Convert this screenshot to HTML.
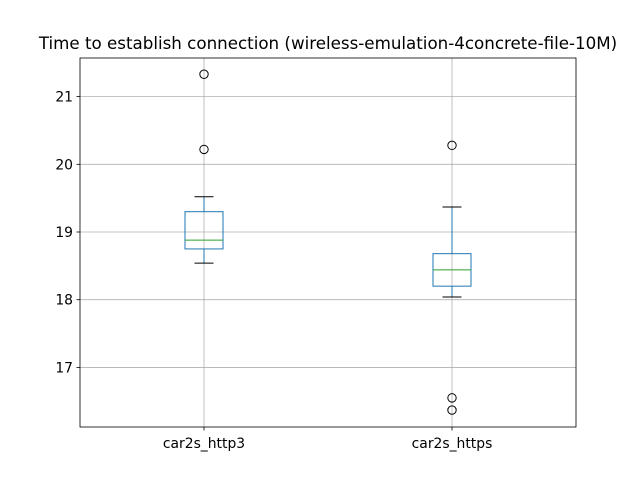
<!DOCTYPE html>
<html><head><meta charset="utf-8"><style>body{margin:0;background:#fff}svg{display:block}text{font-family:"DejaVu Sans","Liberation Sans",sans-serif;fill:#000}</style></head>
<body>
<svg id="chart" width="640" height="480"></svg>
<script>
const categories=["car2s_http3","car2s_https"];
const whiskerLow=[18.54,18.04];
const q1=[18.75,18.20];
const medians=[18.88,18.44];
const q3=[19.30,18.68];
const whiskerHigh=[19.52,19.37];
const outliers=[[21.33,20.22],[20.28,16.55,16.37]];
const yTicks=[17,18,19,20,21];
const L=80,R=576,T=58,B=427,yMin=16.12,yMax=21.57;
const y=v=>B-(v-yMin)/(yMax-yMin)*(B-T);
const x=i=>L+(R-L)*(i+0.5)/categories.length;
const s=document.getElementById('chart');const NS='http://www.w3.org/2000/svg';
function mk(t,a,p){const e=document.createElementNS(NS,t);for(const k in a)e.setAttribute(k,a[k]);(p||s).appendChild(e);return e;}
const title=mk('text',{x:328,y:49,'text-anchor':'middle','font-size':16.7});title.textContent="Time to establish connection (wireless-emulation-4concrete-file-10M)";


yTicks.forEach(v=>{
 const g=mk('line',{x1:L,x2:R,y1:y(v),y2:y(v),stroke:'#b0b0b0','stroke-width':0.8});
 
 
 mk('line',{x1:L-3.5,x2:L,y1:y(v),y2:y(v),stroke:'#000','stroke-width':0.8});
 const t=mk('text',{x:L-7,y:y(v)+5,'text-anchor':'end','font-size':13.9});t.textContent=v;
 
 
});
categories.forEach((c,i)=>{
 const cx=x(i);
 const g=mk('line',{x1:cx,x2:cx,y1:T,y2:B,stroke:'#b0b0b0','stroke-width':0.8});
 
 
 mk('line',{x1:cx,x2:cx,y1:B,y2:B+3.5,stroke:'#000','stroke-width':0.8});
 const t=mk('text',{x:cx,y:B+21,'text-anchor':'middle','font-size':13.9});t.textContent=c;
 
 
 const grp=mk('g',{});
 
 
 const bw=38,cw=19,col='#1f77b4';
 mk('line',{x1:cx,x2:cx,y1:y(q3[i]),y2:y(whiskerHigh[i]),stroke:col,'stroke-width':1},grp);
 mk('line',{x1:cx,x2:cx,y1:y(q1[i]),y2:y(whiskerLow[i]),stroke:col,'stroke-width':1},grp);
 mk('line',{x1:cx-cw/2,x2:cx+cw/2,y1:y(whiskerHigh[i]),y2:y(whiskerHigh[i]),stroke:'#000','stroke-width':1},grp);
 mk('line',{x1:cx-cw/2,x2:cx+cw/2,y1:y(whiskerLow[i]),y2:y(whiskerLow[i]),stroke:'#000','stroke-width':1},grp);
 mk('rect',{x:cx-bw/2,y:y(q3[i]),width:bw,height:y(q1[i])-y(q3[i]),fill:'none',stroke:col,'stroke-width':1},grp);
 mk('line',{x1:cx-bw/2,x2:cx+bw/2,y1:y(medians[i]),y2:y(medians[i]),stroke:'#2ca02c','stroke-width':1},grp);
 outliers[i].forEach(v=>{const o=mk('circle',{cx:cx,cy:y(v),r:4.2,fill:'none',stroke:'#000','stroke-width':1},grp);
  
  });
});
const f=mk('rect',{x:L,y:T,width:R-L,height:B-T,fill:'none',stroke:'#000','stroke-width':0.8});


</script>
</body></html>
